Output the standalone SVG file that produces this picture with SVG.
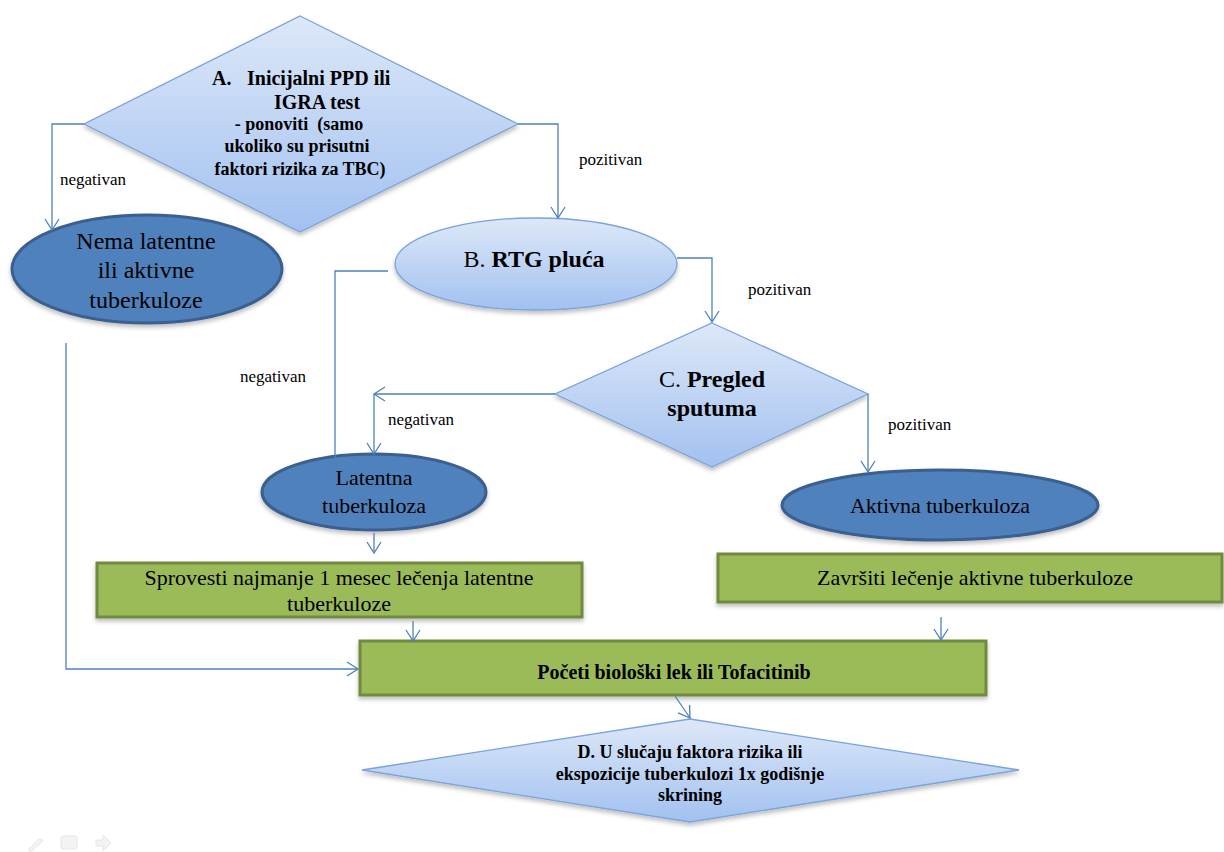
<svg xmlns="http://www.w3.org/2000/svg" width="1224" height="852" viewBox="0 0 1224 852">
<defs>
<linearGradient id="gLight" x1="0" y1="0" x2="0" y2="1">
<stop offset="0" stop-color="#DDE8F8"/>
<stop offset="1" stop-color="#A2C1F0"/>
</linearGradient>
<filter id="sh" x="-10%" y="-10%" width="120%" height="130%">
<feDropShadow dx="0" dy="3" stdDeviation="2" flood-color="#000" flood-opacity="0.25"/>
</filter>
<marker id="arr" viewBox="-12 -8 14 16" refX="0" refY="0" markerWidth="14" markerHeight="16" markerUnits="userSpaceOnUse" orient="auto">
<path d="M-11,-7 L0,0 L-11,7" fill="none" stroke="#4F81BD" stroke-width="1.3"/>
</marker>
<style>
.light{fill:url(#gLight);stroke:#7BA3DB;stroke-width:1.3;filter:url(#sh)}
.dark{fill:#4F81BD;stroke:#3A5F8F;stroke-width:3;filter:url(#sh)}
.green{fill:#9BBB59;stroke:#71893F;stroke-width:3;filter:url(#sh)}
text{font-family:"Liberation Serif","Times New Roman",serif;fill:#000}
.b{font-weight:bold}
.lbl{font-size:17px}
.c{text-anchor:middle}
.pre{white-space:pre}
.conn path{fill:none;stroke:#4F81BD;stroke-width:1.3}
.icon{fill:#F3F3F3;stroke:#E6E6E6;stroke-width:1}
</style>
</defs>
<rect width="1224" height="852" fill="#FFFFFF"/>

<g id="nodeA">
<polygon class="light" points="300,16 518,124 300,232 84,124"/>
<text class="b" font-size="20" x="212" y="85">A.</text>
<text class="b" font-size="20" x="247" y="85">Inicijalni PPD ili</text>
<text class="b c" font-size="20" x="317" y="109">IGRA test</text>
<text class="b c pre" font-size="18" x="299" y="130" xml:space="preserve">- ponoviti  (samo</text>
<text class="b c" font-size="18" x="297" y="152">ukoliko su prisutni</text>
<text class="b c" font-size="18" x="300" y="175">faktori rizika za TBC)</text>
</g>

<g id="nodeNema">
<ellipse class="dark" cx="147" cy="269" rx="135" ry="54"/>
<text class="c" font-size="24" x="146" y="249">Nema latentne</text>
<text class="c" font-size="24" x="146" y="278">ili aktivne</text>
<text class="c" font-size="24" x="146" y="308">tuberkuloze</text>
</g>

<g id="nodeB">
<ellipse class="light" cx="536" cy="264" rx="141" ry="46"/>
<text class="c" font-size="24" x="534" y="267">B. <tspan class="b">RTG pluća</tspan></text>
</g>

<g id="nodeC">
<polygon class="light" points="712,323 868,394 712,467 555,394"/>
<text class="c" font-size="24" x="712" y="387">C. <tspan class="b">Pregled</tspan></text>
<text class="b c" font-size="24" x="712" y="416">sputuma</text>
</g>

<g id="nodeLatentna">
<ellipse class="dark" cx="374" cy="492" rx="112" ry="38"/>
<text class="c" font-size="22" x="374" y="485">Latentna</text>
<text class="c" font-size="22" x="374" y="513">tuberkuloza</text>
</g>

<g id="nodeAktivna">
<ellipse class="dark" cx="940" cy="505" rx="158" ry="35"/>
<text class="c" font-size="22" x="940" y="513">Aktivna tuberkuloza</text>
</g>

<g id="nodeSprovesti">
<rect class="green" x="97" y="563" width="485" height="54"/>
<text class="c" font-size="22" x="339" y="585">Sprovesti najmanje 1 mesec lečenja latentne</text>
<text class="c" font-size="22" x="339" y="611">tuberkuloze</text>
</g>

<g id="nodeZavrsiti">
<rect class="green" x="718" y="554" width="504" height="48"/>
<text class="c" font-size="22" x="975" y="585">Završiti lečenje aktivne tuberkuloze</text>
</g>

<g id="nodePoceti">
<rect class="green" x="360" y="641" width="626" height="54"/>
<text class="b c" font-size="20" x="674" y="679">Početi biološki lek ili Tofacitinib</text>
</g>

<g id="nodeD">
<polygon class="light" points="690,719 1019,770 690,822 362,770"/>
<text class="b c" font-size="18" x="690" y="758">D. U slučaju faktora rizika ili</text>
<text class="b c" font-size="18" x="690" y="780">ekspozicije tuberkulozi 1x godišnje</text>
<text class="b c" font-size="18" x="690" y="801">skrining</text>
</g>

<g id="connectors" class="conn">
<path d="M84,124 H52 V230" marker-end="url(#arr)"/>
<path d="M518,124 H558 V218" marker-end="url(#arr)"/>
<path d="M677,258 H712 V322" marker-end="url(#arr)"/>
<path d="M388,271 H335 V525"/>
<path d="M555,394 H374" marker-end="url(#arr)"/>
<path d="M374,394 V454" marker-end="url(#arr)"/>
<path d="M868,394 V472" marker-end="url(#arr)"/>
<path d="M374,533 V553" marker-end="url(#arr)"/>
<path d="M413,621 V641" marker-end="url(#arr)"/>
<path d="M941,617 V640" marker-end="url(#arr)"/>
<path d="M66,343 V669 H358" marker-end="url(#arr)"/>
<path d="M675,696 L690,718" marker-end="url(#arr)"/>
</g>

<g id="labels">
<text class="lbl" x="60" y="185">negativan</text>
<text class="lbl" x="579" y="165">pozitivan</text>
<text class="lbl" x="240" y="382">negativan</text>
<text class="lbl" x="748" y="295">pozitivan</text>
<text class="lbl" x="388" y="425">negativan</text>
<text class="lbl" x="888" y="430">pozitivan</text>
</g>

<g id="viewer-icons">
<path class="icon" d="M28,850 L40,838 L43,841 L31,852 Z"/>
<rect class="icon" x="61" y="836" width="16" height="13" rx="2"/>
<path class="icon" d="M96,840 H103 V835 L111,843 L103,851 V846 H96 Z"/>
</g>
</svg>
